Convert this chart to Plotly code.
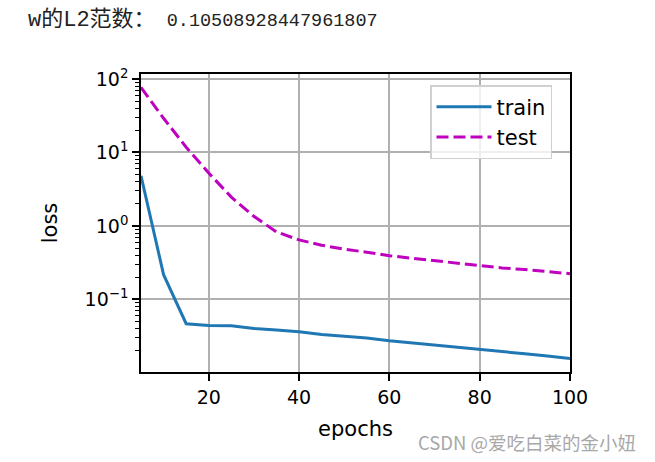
import plotly.graph_objects as go

epochs = [5, 10, 15, 20, 25, 30, 35, 40, 45, 50, 55, 60, 65, 70, 75, 80, 85, 90, 95, 100]
train_loss = [4.82, 0.217, 0.0467, 0.0443, 0.0439, 0.0403, 0.0383, 0.0363, 0.0334, 0.0314,
              0.0299, 0.0274, 0.0255, 0.0240, 0.0222, 0.0209, 0.0194, 0.0182, 0.0170, 0.0157]
test_loss = [77.0, 29.2, 11.8, 5.25, 2.47, 1.35, 0.83, 0.645, 0.546, 0.482,
             0.439, 0.394, 0.363, 0.337, 0.314, 0.289, 0.268, 0.255, 0.239, 0.224]
y_tickvals = [0.1, 1, 10, 100]
y_ticktext = ["10<sup>\u22121</sup>", "10<sup>0</sup>", "10<sup>1</sup>", "10<sup>2</sup>"]
x_tickvals = [20, 40, 60, 80, 100]
title_label = "w的L2范数："
title_value = "0.10508928447961807"
watermark = "CSDN @爱吃白菜的金小妞"

minor_vals = [m * 10.0 ** e for e in range(-2, 3) for m in range(2, 10)]

FONT = "DejaVu Sans"
fig = go.Figure()
fig.add_trace(go.Scatter(x=epochs, y=train_loss, mode="lines", name="train",
                         line=dict(color="#1f77b4", width=3)))
fig.add_trace(go.Scatter(x=epochs, y=test_loss, mode="lines", name="test",
                         line=dict(color="#bf00bf", width=3, dash="12px,5px")))

title_html = ('<span style="font-size:22px">' + title_label + '</span>'
              + '<span style="font-size:18.5px"> ' + title_value + '</span>')

fig.update_layout(
    width=655, height=462,
    margin=dict(l=141, r=85, t=74, b=90),
    paper_bgcolor="white", plot_bgcolor="white",
    font=dict(family=FONT, size=19, color="black"),
    showlegend=True,
    legend=dict(x=(552 - 141) / 429, y=0.963, xanchor="right", yanchor="top",
                bgcolor="rgba(255,255,255,0.8)", bordercolor="#d0d0d0", borderwidth=1.5,
                font=dict(family=FONT, size=21), tracegroupgap=0, itemwidth=55),
    title=dict(text=title_html, x=28 / 655, xanchor="left", xref="container",
               y=1 - 20 / 462, yanchor="middle",
               font=dict(family="Liberation Mono, Noto Sans CJK SC", size=18.5, color="#222")),
    xaxis=dict(range=[5, 100], tickvals=x_tickvals, showgrid=True, gridcolor="#b0b0b0", gridwidth=1.5,
               showline=True, linecolor="black", linewidth=1.6, mirror=True,
               ticks="outside", ticklen=7, tickwidth=1.6, tickcolor="black",
               zeroline=False, title=dict(text="epochs", standoff=15, font=dict(size=21))),
    yaxis=dict(type="log", range=[-1.988, 2.068], tickvals=y_tickvals, ticktext=y_ticktext,
               showgrid=True, gridcolor="#b0b0b0", gridwidth=1.5,
               showline=True, linecolor="black", linewidth=1.6, mirror=True,
               ticks="outside", ticklen=7, tickwidth=1.6, tickcolor="black",
               minor=dict(tickmode="array", tickvals=minor_vals, ticks="outside", ticklen=4,
                          tickwidth=1.2, tickcolor="black", showgrid=False),
               zeroline=False, title=dict(text="loss", standoff=21, font=dict(size=21))),
    annotations=[dict(text=watermark, xref="paper", yref="paper", x=(638 - 141) / 429, y=(372 - 442) / 298,
                      xanchor="right", yanchor="middle", showarrow=False,
                      font=dict(family="Noto Sans CJK SC", size=18.5, color="#a8a8a8"))],
)

fig.write_html("out.html")
